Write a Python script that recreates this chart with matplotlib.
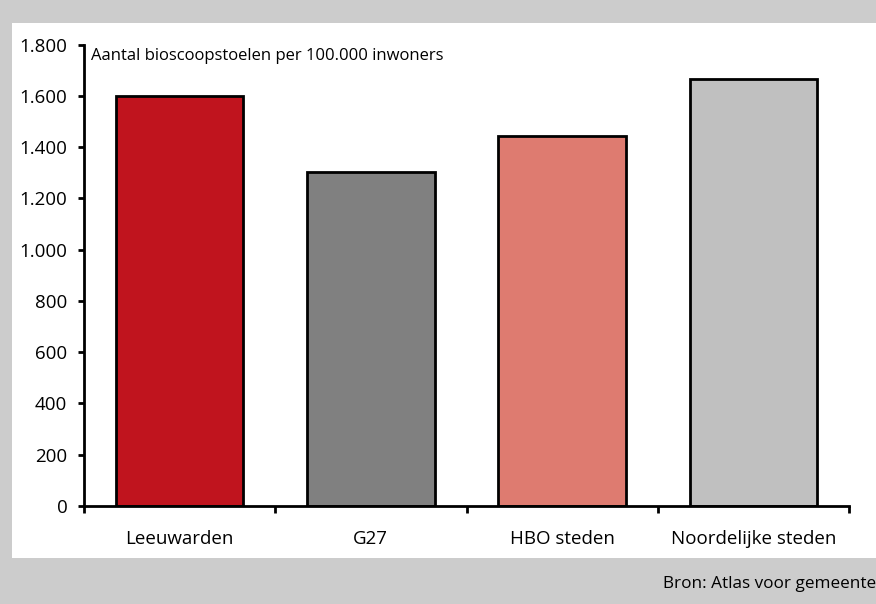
import matplotlib
matplotlib.use("Agg")
import matplotlib.pyplot as plt
from matplotlib.patches import Rectangle
from matplotlib.ticker import FuncFormatter

categories = ["Leeuwarden", "G27", "HBO steden", "Noordelijke steden"]
values = [1600, 1305, 1445, 1665]
colors = ["#c0141e", "#808080", "#de7b70", "#c0c0c0"]
y_ticks = [0, 200, 400, 600, 800, 1000, 1200, 1400, 1600, 1800]

plt.rcParams['font.family'] = ['Open Sans', 'DejaVu Sans']

fig = plt.figure(figsize=(8.76, 6.04), dpi=100, facecolor="#cccccc")
# white panel behind the chart
fig.patches.append(Rectangle((12 / 876, (604 - 558) / 604), 1, (558 - 22.7) / 604,
                             transform=fig.transFigure, facecolor="white",
                             edgecolor="none", zorder=-5))

ax = fig.add_axes([84 / 876, (604 - 506) / 604, (849 - 84) / 876, (506 - 44.7) / 604])
ax.set_facecolor("none")
x = range(len(categories))
ax.bar(x, values, width=0.667, color=colors, edgecolor="black", linewidth=2, zorder=2)

ax.set_xlim(-0.5, len(categories) - 0.5)
ax.set_ylim(0, 1800)
for s in ["top", "right"]:
    ax.spines[s].set_visible(False)
for s in ["left", "bottom"]:
    ax.spines[s].set_linewidth(2)

ax.set_yticks(y_ticks)
ax.yaxis.set_major_formatter(FuncFormatter(lambda v, p: f"{int(v):,}".replace(",", ".")))
ax.tick_params(axis="y", direction="out", length=4, width=2, pad=8, labelsize=13.5)

ax.set_xticks(list(x))
ax.set_xticklabels(categories)
ax.set_xticks([i - 0.5 for i in range(len(categories) + 1)], minor=True)
ax.tick_params(axis="x", which="major", length=0, pad=17, labelsize=13.5)
ax.tick_params(axis="x", which="minor", direction="out", length=5, width=2)

ax.text(0.009, 0.993, "Aantal bioscoopstoelen per 100.000 inwoners",
        transform=ax.transAxes, fontsize=12, va="top", ha="left")

# source line, cut off at the right edge as in the original
fig.text(663 / 876, (604 - 584) / 604, "Bron: Atlas voor gemeenten",
         fontsize=12.3, va="center", ha="left")

fig.savefig("out.png", dpi=100, facecolor=fig.get_facecolor())
